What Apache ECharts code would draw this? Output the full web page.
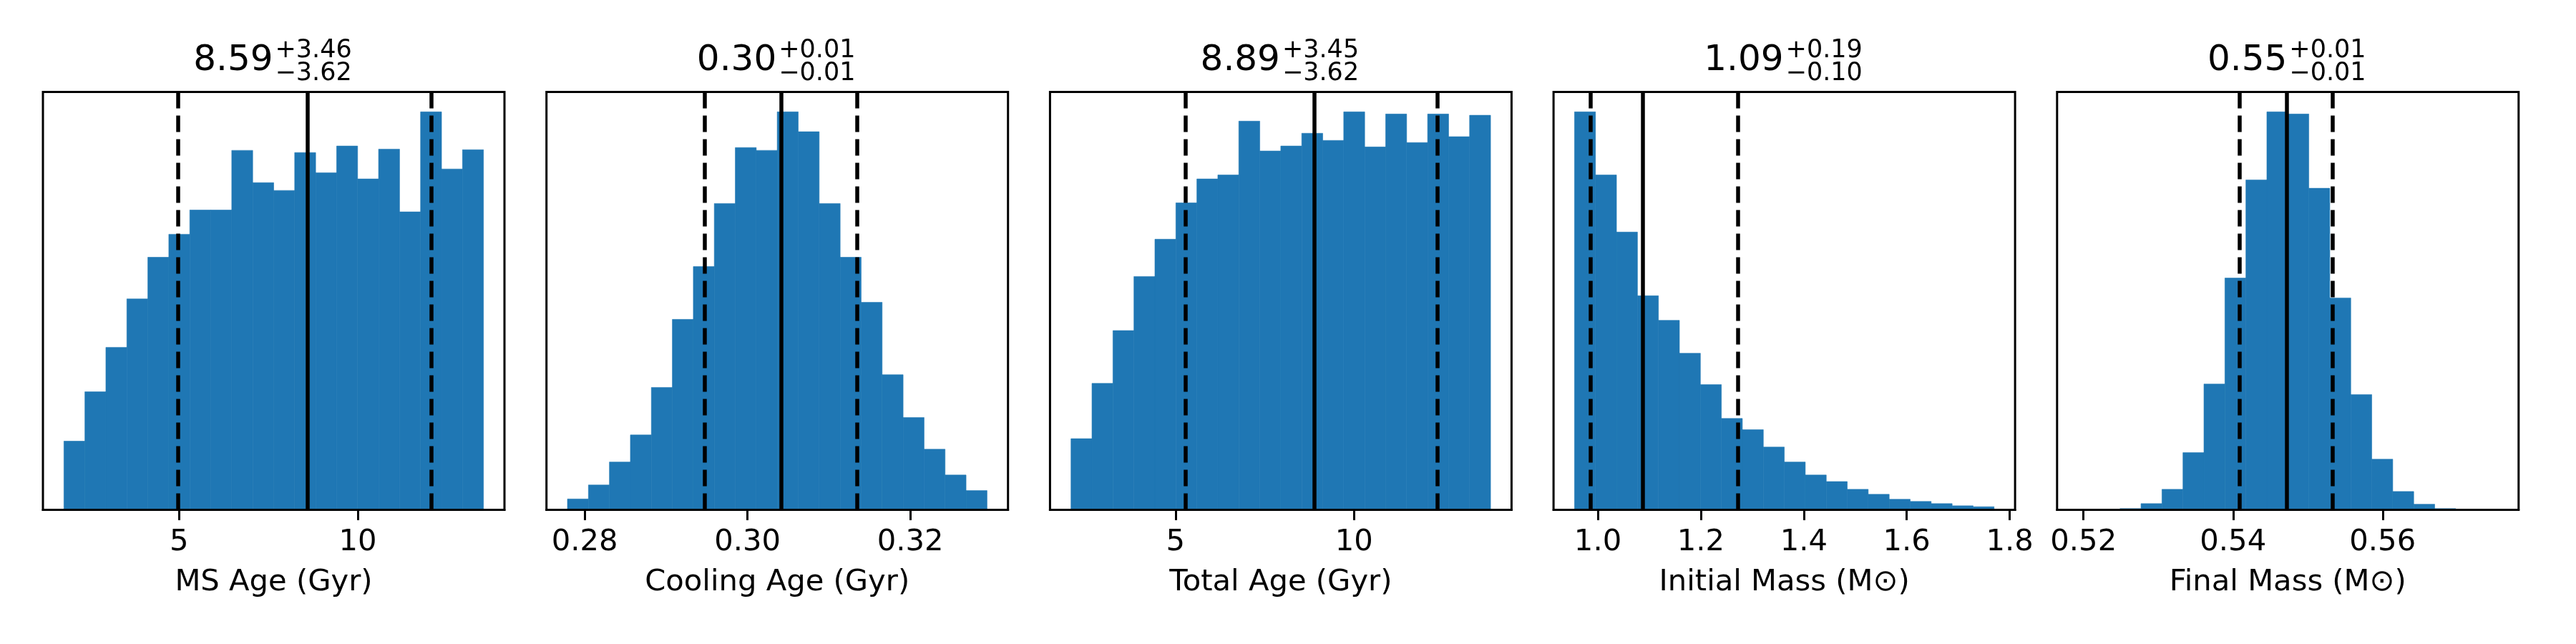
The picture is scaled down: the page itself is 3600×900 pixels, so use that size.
<!DOCTYPE html>
<html>
<head>
<meta charset="utf-8">
<script src="https://cdn.jsdelivr.net/npm/echarts@6/dist/echarts.min.js"></script>
<style>
  html, body { margin: 0; padding: 0; background: #fff; }
  #main { width: 3600px; height: 900px; }
</style>
</head>
<body>
<div id="main"></div>
<script>
// x-axis titles of the five panels
var axisNames = ['MS Age (Gyr)', 'Cooling Age (Gyr)', 'Total Age (Gyr)', 'Initial Mass (M\u2299)', 'Final Mass (M\u2299)'];

// histogram counts (20 bins per panel)
var msAgeCounts = [221, 380, 523, 679, 813, 887, 965, 965, 1157, 1053, 1028, 1150, 1085, 1171, 1065, 1161, 959, 1281, 1097, 1159];
var coolAgeCounts = [35, 80, 154, 241, 394, 613, 783, 986, 1166, 1157, 1281, 1217, 986, 813, 668, 435, 297, 195, 112, 62];
var totAgeCounts = [229, 407, 577, 751, 871, 988, 1065, 1078, 1251, 1155, 1171, 1212, 1189, 1281, 1168, 1274, 1182, 1274, 1201, 1270];
var initMassCounts = [1281, 1078, 894, 689, 610, 504, 403, 294, 258, 202, 154, 112, 91, 66, 50, 34, 27, 20, 13, 10];
var finMassCounts = [1, 1, 4, 20, 66, 184, 405, 746, 1062, 1281, 1274, 1035, 682, 371, 163, 59, 18, 4, 1, 1];

// first and last bin edge of each histogram
var binRanges = [[1.774, 13.52], [0.27788, 0.32943], [2.070, 13.826], [0.9547, 1.7696], [0.51927, 0.57538]];

// median and the errors to the 16th / 84th percentile
var medians = [8.59, 0.3041, 8.89, 1.0865, 0.5472];
var errPlus = [3.46, 0.0094, 3.45, 0.1862, 0.0061];
var errMinus = [3.62, 0.0094, 3.62, 0.1008, 0.0063];

// tick values
var msAgeTicks = [5, 10];
var coolAgeTicks = [0.28, 0.30, 0.32];
var totAgeTicks = [5, 10];
var initMassTicks = [1.0, 1.2, 1.4, 1.6, 1.8];
var finMassTicks = [0.52, 0.54, 0.56];
var tickDecimals = [0, 2, 0, 1, 2];

var allCounts = [msAgeCounts, coolAgeCounts, totAgeCounts, initMassCounts, finMassCounts];
var allTicks = [msAgeTicks, coolAgeTicks, totAgeTicks, initMassTicks, finMassTicks];

// layout (px)
var gLeft = 60, gStep = 703.7, gTop = 128.5, gW = 645, gH = 584;
var FONT = 'DejaVu Sans';
var BLUE = '#1f77b4';

function renderBar(params, api) {
  var p0 = api.coord([api.value(0), api.value(2)]);
  var p1 = api.coord([api.value(1), 0]);
  return {
    type: 'rect',
    shape: { x: p0[0], y: p0[1], width: p1[0] - p0[0], height: p1[1] - p0[1] },
    style: { fill: BLUE, stroke: BLUE, lineWidth: 0.6 }
  };
}

var grids = [], xAxes = [], yAxes = [], series = [], graphics = [];

for (var i = 0; i < 5; i++) {
  var counts = allCounts[i];
  var lo = binRanges[i][0], hi = binRanges[i][1];
  var w = (hi - lo) / counts.length;
  var data = [];
  for (var k = 0; k < counts.length; k++) {
    data.push([lo + k * w, lo + (k + 1) * w, counts[k]]);
  }
  var pad = 0.05 * (hi - lo);
  var ymax = 1.05 * Math.max.apply(null, counts);
  var left = gLeft + i * gStep;

  grids.push({
    left: left, top: gTop, width: gW, height: gH,
    show: true, borderColor: '#000', borderWidth: 3, backgroundColor: '#fff'
  });

  (function (dec) {
    xAxes.push({
      type: 'value', gridIndex: i, min: lo - pad, max: hi + pad,
      z: 10,
      name: axisNames[i], nameLocation: 'middle', nameGap: 81,
      nameTextStyle: { fontFamily: FONT, fontSize: 41.7, color: '#000', lineHeight: 42 },
      axisLine: { show: true, lineStyle: { color: '#000', width: 3 } },
      axisTick: { show: true, length: 14.6, customValues: allTicks[i], lineStyle: { color: '#000', width: 3 } },
      axisLabel: {
        customValues: allTicks[i], margin: 25,
        fontFamily: FONT, fontSize: 41.7, color: '#000', lineHeight: 42,
        formatter: function (v) { return v.toFixed(dec); }
      },
      splitLine: { show: false }
    });
  })(tickDecimals[i]);

  yAxes.push({ type: 'value', gridIndex: i, min: 0, max: ymax, show: false });

  var lowV = medians[i] - errMinus[i];
  var upV = medians[i] + errPlus[i];
  series.push({
    type: 'custom', xAxisIndex: i, yAxisIndex: i,
    renderItem: renderBar, data: data, silent: true,
    markLine: {
      silent: true, precision: 6, symbol: ['none', 'none'], label: { show: false },
      lineStyle: { color: '#000', width: 5.5 },
      data: [
        { xAxis: lowV, lineStyle: { type: [23, 10], color: '#000', width: 5.5 } },
        { xAxis: medians[i], lineStyle: { type: 'solid', color: '#000', width: 5.5 } },
        { xAxis: upV, lineStyle: { type: [23, 10], color: '#000', width: 5.5 } }
      ]
    }
  });

  // title: median with +err / -err stacked
  var cx = left + gW / 2;
  graphics.push({
    type: 'text', x: cx - 1, y: 85,
    style: { text: medians[i].toFixed(2), fontFamily: FONT, fontSize: 50, fill: '#000', align: 'right', verticalAlign: 'middle' }
  });
  graphics.push({
    type: 'text', x: cx + 2, y: 71.3,
    style: { text: '+' + errPlus[i].toFixed(2), fontFamily: FONT, fontSize: 35, fill: '#000', align: 'left', verticalAlign: 'middle' }
  });
  graphics.push({
    type: 'text', x: cx + 2, y: 103.3,
    style: { text: '\u2212' + errMinus[i].toFixed(2), fontFamily: FONT, fontSize: 35, fill: '#000', align: 'left', verticalAlign: 'middle' }
  });
}

var myChart = echarts.init(document.getElementById('main'), null, { renderer: 'canvas' });
myChart.setOption({
  backgroundColor: '#fff',
  animation: false,
  grid: grids,
  xAxis: xAxes,
  yAxis: yAxes,
  series: series,
  graphic: graphics
});
</script>
</body>
</html>
